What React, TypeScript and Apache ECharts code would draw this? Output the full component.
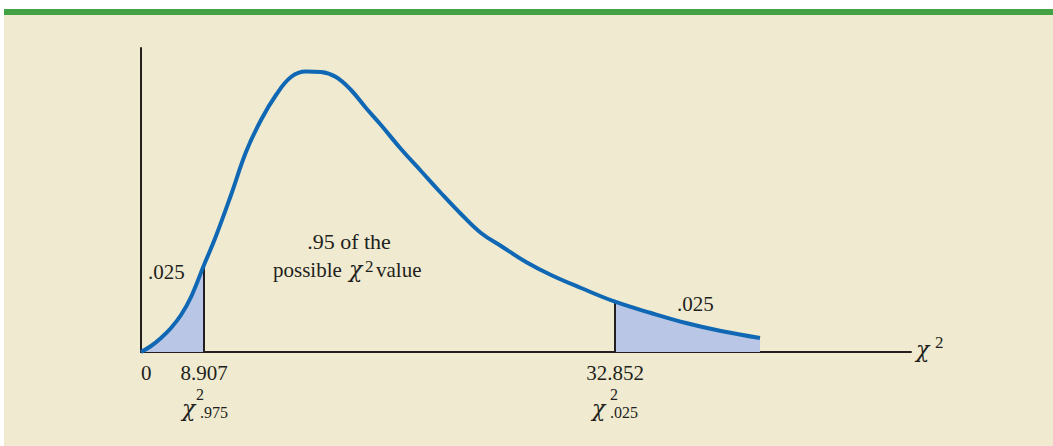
import React, { useEffect, useRef } from "react";
import * as echarts from "echarts";

// Curve (horizontal position along the axis, height above the axis)
const curveX = [0, 10, 20, 30, 40, 50, 63, 75, 90, 105, 120, 135, 150, 165, 180, 195, 210, 225, 240, 260, 280, 300, 320, 340, 360, 385, 410, 440, 474, 510, 545, 580, 619];
const curveY = [0, 6, 14, 24, 37, 55, 87, 116, 157, 200, 232, 257, 275, 280.5, 280, 275, 262, 244, 227, 203, 181, 159, 138, 119, 106, 90, 77, 64, 50.3, 39, 29, 21, 14];

const lowerCritical = 63; // where 8.907 sits
const upperCritical = 474; // where 32.852 sits
const tickPositions = [0, 63, 474];
const tickLabels = ["0", "8.907", "32.852"];

const FONT = "Liberation Serif";
const CHI_FONT = "DejaVu Serif";
const INK = "#231F20";

export default function App() {
  const ref = useRef<HTMLDivElement>(null);
  useEffect(() => {
    if (!ref.current) return;
    const chart = echarts.init(ref.current, null, { renderer: "svg" });
    const curve = curveX.map((x, i) => [x, curveY[i]]);
    const leftArea = curve.filter((p) => p[0] <= lowerCritical);
    const rightArea = curve.filter((p) => p[0] >= upperCritical);
    const lowerH = curveY[curveX.indexOf(lowerCritical)];
    const upperH = curveY[curveX.indexOf(upperCritical)];

    // y given as baseline; converted to the middle used by the renderer
    const txt = (text: string, x: number, base: number, size: number, italic = false, align = "left", family = FONT) => ({
      type: "text",
      x,
      y: base - size * 0.33,
      silent: true,
      z: 10,
      style: {
        text,
        fontFamily: family,
        fontSize: size,
        fontStyle: italic ? "italic" : "normal",
        fill: INK,
        align,
        verticalAlign: "middle",
      },
    });
    const chi = (x: number, base: number) => txt("χ", x, base, 22, true, "left", CHI_FONT);

    chart.setOption({
      animation: false,
      backgroundColor: "#ffffff",
      grid: { left: 141, top: 48, width: 770, height: 304, containLabel: false },
      xAxis: {
        type: "value",
        min: 0,
        max: 770,
        axisLine: { show: true, lineStyle: { color: INK, width: 2 } },
        axisTick: { show: false },
        splitLine: { show: false },
        axisLabel: {
          customValues: tickPositions,
          formatter: (v: number) => tickLabels[tickPositions.indexOf(v)] ?? "",
          color: INK,
          fontFamily: FONT,
          fontSize: 21,
          margin: 10,
          alignMinLabel: "left",
        },
      },
      yAxis: {
        type: "value",
        min: 0,
        max: 304,
        axisLine: { show: true, lineStyle: { color: INK, width: 2 } },
        axisTick: { show: false },
        splitLine: { show: false },
        axisLabel: { show: false },
      },
      graphic: [
        { type: "rect", shape: { x: 4, y: 9, width: 1049, height: 6 }, style: { fill: "#43A243" }, z: -10 },
        { type: "rect", shape: { x: 4, y: 15, width: 1049, height: 431 }, style: { fill: "#F0EBD0" }, z: -10 },
        txt(".025", 148, 279, 21),
        txt(".95 of the", 349, 249, 22, false, "center"),
        txt("possible", 273, 277, 21),
        chi(349, 277),
        txt("2", 365, 272, 17),
        txt("value", 376, 277, 21),
        txt(".025", 677, 311, 21),
        chi(182, 416),
        txt("2", 196, 400, 16),
        txt(".975", 200, 418, 16),
        chi(592, 416),
        txt("2", 610, 400, 16),
        txt(".025", 610, 418, 16),
        chi(916, 357),
        txt("2", 935, 348, 17),
      ],
      series: [
        {
          type: "line",
          data: leftArea,
          smooth: 0.4,
          symbol: "none",
          lineStyle: { width: 0 },
          areaStyle: { color: "#B9C6E5", opacity: 1 },
          z: 1,
        },
        {
          type: "line",
          data: rightArea,
          smooth: 0.4,
          symbol: "none",
          lineStyle: { width: 0 },
          areaStyle: { color: "#B9C6E5", opacity: 1 },
          z: 1,
        },
        {
          type: "line",
          data: [[lowerCritical, 0], [lowerCritical, lowerH]],
          symbol: "none",
          lineStyle: { color: INK, width: 2 },
          z: 2,
        },
        {
          type: "line",
          data: [[upperCritical, 0], [upperCritical, upperH]],
          symbol: "none",
          lineStyle: { color: INK, width: 2 },
          z: 2,
        },
        {
          type: "line",
          data: curve,
          smooth: 0.4,
          symbol: "none",
          lineStyle: { color: "#1068B4", width: 4, cap: "butt" },
          z: 3,
        },
      ],
    });
    return () => chart.dispose();
  }, []);
  return (
    <div
      ref={ref}
      style={{ position: "absolute", left: 0, top: 0, width: 1053, height: 446 }}
    />
  );
}
